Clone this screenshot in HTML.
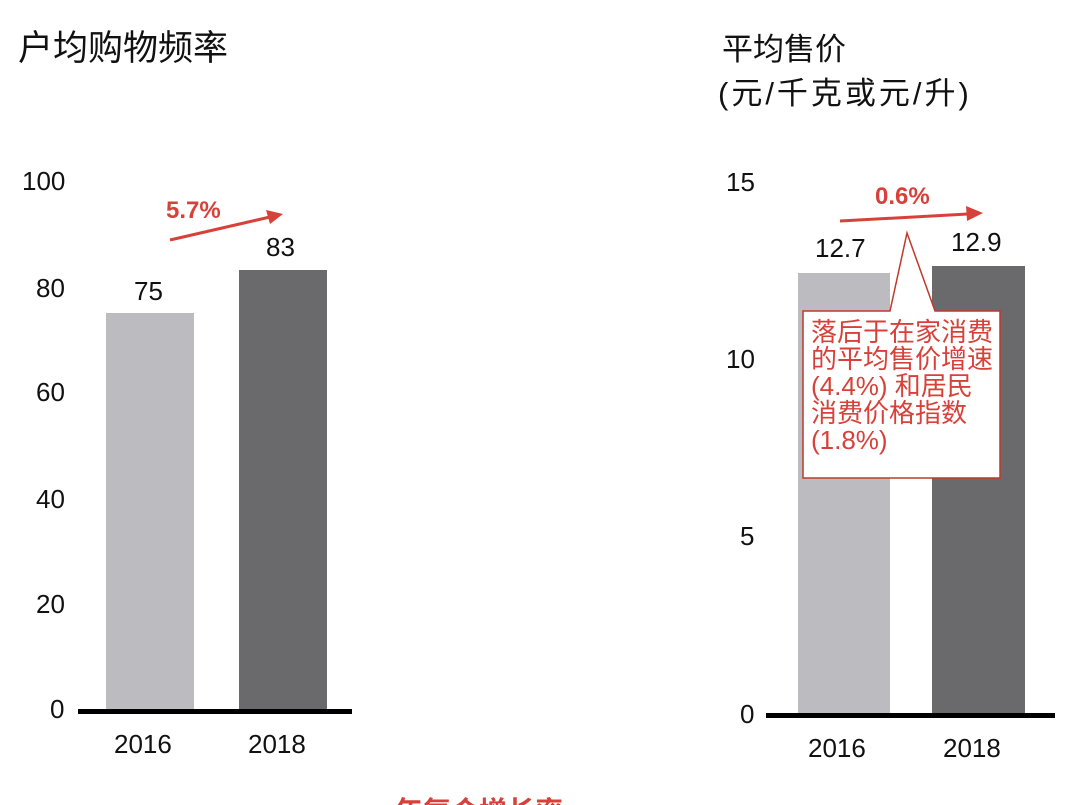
<!DOCTYPE html>
<html><head><meta charset="utf-8"><style>
html,body{margin:0;width:1080px;height:805px;background:#fff;overflow:hidden;position:relative;font-family:"Liberation Sans","Noto Sans CJK SC",sans-serif;}
.t{position:absolute;white-space:nowrap;color:#111;}
</style></head><body>
<div class="t" style="left:18px;top:20px;font-size:35px;">户均购物频率</div>
<div class="t" style="left:722px;top:24px;font-size:31px;">平均售价</div>
<div class="t" style="left:718px;top:68px;font-size:31px;letter-spacing:3px;">(元/千克或元/升)</div>

<div class="t" style="left:22px;top:166px;font-size:26px;">100</div>
<div class="t" style="left:36px;top:273px;font-size:26px;">80</div>
<div class="t" style="left:36px;top:377px;font-size:26px;">60</div>
<div class="t" style="left:36px;top:484px;font-size:26px;">40</div>
<div class="t" style="left:36px;top:589px;font-size:26px;">20</div>
<div class="t" style="left:50px;top:694px;font-size:26px;">0</div>

<div style="position:absolute;left:106px;top:313px;width:88px;height:397px;background:#bcbcc0"></div>
<div style="position:absolute;left:239px;top:270px;width:88px;height:440px;background:#6a6a6c"></div>
<div style="position:absolute;left:78px;top:709px;width:274px;height:5px;background:#000"></div>
<div class="t" style="left:134px;top:276px;font-size:26px;">75</div>
<div class="t" style="left:266px;top:232px;font-size:26px;">83</div>
<div class="t" style="left:114px;top:729px;font-size:26px;">2016</div>
<div class="t" style="left:248px;top:729px;font-size:26px;">2018</div>
<div class="t" style="left:166px;top:197px;font-size:24px;font-weight:bold;color:#d8413a;">5.7%</div>

<div class="t" style="left:726px;top:167px;font-size:26px;">15</div>
<div class="t" style="left:726px;top:344px;font-size:26px;">10</div>
<div class="t" style="left:740px;top:521px;font-size:26px;">5</div>
<div class="t" style="left:740px;top:699px;font-size:26px;">0</div>
<div style="position:absolute;left:798px;top:273px;width:92px;height:441px;background:#bcbcc0"></div>
<div style="position:absolute;left:932px;top:266px;width:93px;height:448px;background:#6a6a6c"></div>
<div style="position:absolute;left:766px;top:713px;width:289px;height:5px;background:#000"></div>
<div class="t" style="left:815px;top:233px;font-size:26px;">12.7</div>
<div class="t" style="left:951px;top:227px;font-size:26px;">12.9</div>
<div class="t" style="left:808px;top:733px;font-size:26px;">2016</div>
<div class="t" style="left:943px;top:733px;font-size:26px;">2018</div>
<div class="t" style="left:875px;top:183px;font-size:24px;font-weight:bold;color:#d8413a;">0.6%</div>

<svg style="position:absolute;left:0;top:0" width="1080" height="805">
<line x1="170" y1="240" x2="270" y2="217" stroke="#d8413a" stroke-width="3"/>
<polygon points="283,214 266,210 270,224" fill="#d8413a"/>
<line x1="840" y1="221" x2="968" y2="214" stroke="#d8413a" stroke-width="3"/>
<polygon points="983,213 966,206 967,221" fill="#d8413a"/>
<polygon points="803,311 890,311 907,233 935,311 1000,311 1000,478 803,478" fill="#fff" stroke="#c0392b" stroke-width="1.5"/>
</svg>
<div class="t" style="left:811px;top:319px;font-size:26px;line-height:27px;color:#d8413a;">落后于在家消费<br>的平均售价增速<br>(4.4%) 和居民<br>消费价格指数<br>(1.8%)</div>
<div class="t" style="left:395px;top:790px;font-size:28px;font-weight:bold;color:#d8413a;">年复合增长率</div>
</body></html>
